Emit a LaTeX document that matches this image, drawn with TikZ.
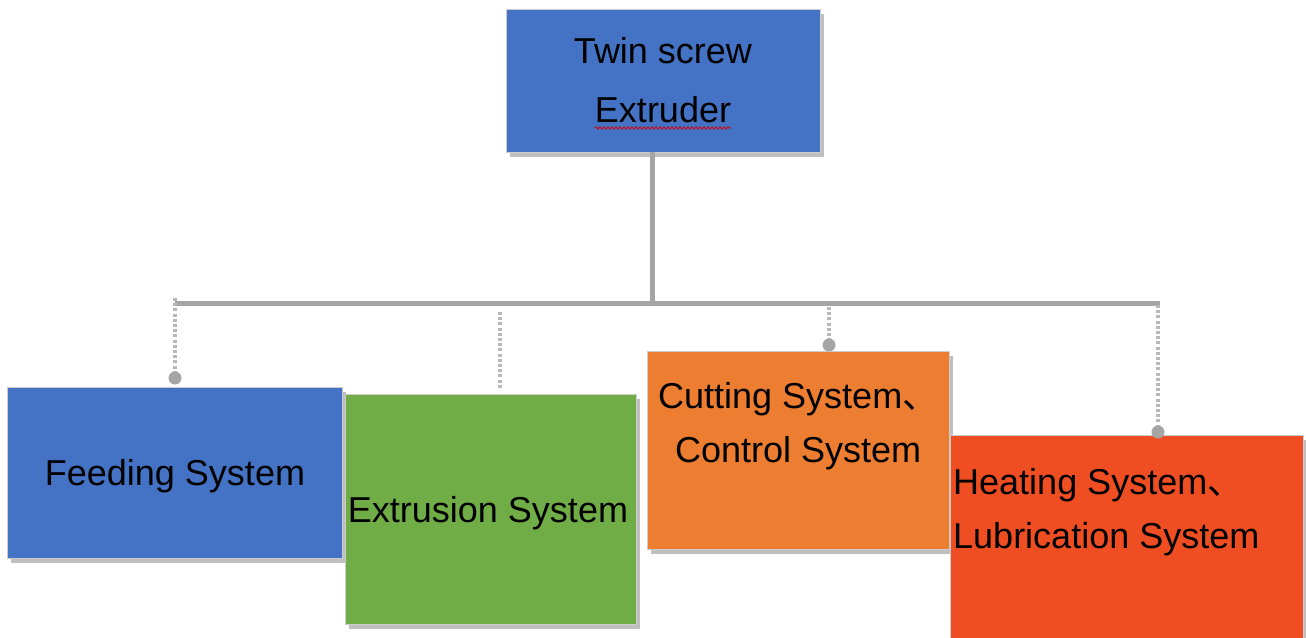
\documentclass[tikz,border=0pt]{standalone}
\usepackage{fontspec}
\setmainfont{Liberation Sans}
\newfontfamily\cjk{Noto Sans CJK SC}
\usetikzlibrary{shadows,decorations.pathmorphing}
\definecolor{cblue}{HTML}{4472C4}
\definecolor{cgreen}{HTML}{70AD47}
\definecolor{corange}{HTML}{ED7D31}
\definecolor{cred}{HTML}{EF4E23}
\definecolor{cline}{HTML}{A5A5A5}
\definecolor{cdot}{HTML}{B8B8B8}
\tikzset{
  box/.style={rectangle, draw=black!20, line width=0.6pt, inner sep=0pt,
    drop shadow={shadow xshift=4pt, shadow yshift=-5pt, opacity=0.25, fill=black}},
  lbl/.style={inner sep=0pt, font=\fontsize{36}{54}\selectfont, text=black},
  bus/.style={draw=cline, line width=5pt},
  drop/.style={draw=cdot, line width=3.5pt, dash pattern=on 3pt off 2.2pt},
  knob/.style={fill=cline}
}
\begin{document}
\begin{tikzpicture}[x=1pt,y=-1pt]
\useasboundingbox (0,0) rectangle (1306,637);
% boxes
\node[box, fill=cblue, minimum width=314pt, minimum height=143pt] (top) at (663,80.5) {};
\node[box, fill=cblue, minimum width=335pt, minimum height=171pt] (feed) at (174.5,472.5) {};
\node[box, fill=cgreen, minimum width=291pt, minimum height=230pt] (extr) at (490.5,509) {};
\node[box, fill=corange, minimum width=302pt, minimum height=198pt] (cut) at (798,450) {};
\node[box, fill=cred, minimum width=353pt, minimum height=210pt] (heat) at (1126.5,540) {};
% texts
\node[lbl, anchor=base] (t1) at (663,63) {Twin screw};
\node[lbl, anchor=base] (t2) at (663,122) {Extruder};
\draw[red!85!black, line width=0.8pt, decorate, decoration={snake, amplitude=1.2pt, segment length=4pt}]
  ([yshift=-6pt]t2.base west) -- ([yshift=-6pt]t2.base east);
\node[lbl, anchor=base] (tf) at (175,485) {Feeding System};
\node[lbl, anchor=base] (te) at (488,522) {Extrusion System};
\node[lbl, anchor=base west] (tc1) at (658,408) {Cutting System{\cjk 、}};
\node[lbl, anchor=base west] (tc2) at (675,462) {Control System};
\node[lbl, anchor=base west] (th1) at (953,494) {Heating System{\cjk 、}};
\node[lbl, anchor=base west] (th2) at (953,548) {Lubrication System};
% connector coordinates
\coordinate (j) at (652,303);
\coordinate (bl) at (175,303);
\coordinate (br) at (1160,303);
\coordinate (s1) at (175,298);
\coordinate (e1) at (175,378);
\coordinate (s2) at (500,312);
\coordinate (e2) at (500,390);
\coordinate (s3) at (829,307);
\coordinate (e3) at (829,345);
\coordinate (s4) at (1158,305);
\coordinate (e4) at (1158,432);
% bus
\draw[bus] (top.south -| j) -- (j);
\draw[bus] (bl) -- (br);
% drops
\draw[drop] (s1) -- (e1);
\draw[drop] (s2) -- (e2);
\draw[drop] (s3) -- (e3);
\draw[drop] (s4) -- (e4);
\fill[knob] (e1) circle (6.5pt);
\fill[knob] (e3) circle (6.5pt);
\fill[knob] (e4) circle (6.5pt);
\end{tikzpicture}
\end{document}
